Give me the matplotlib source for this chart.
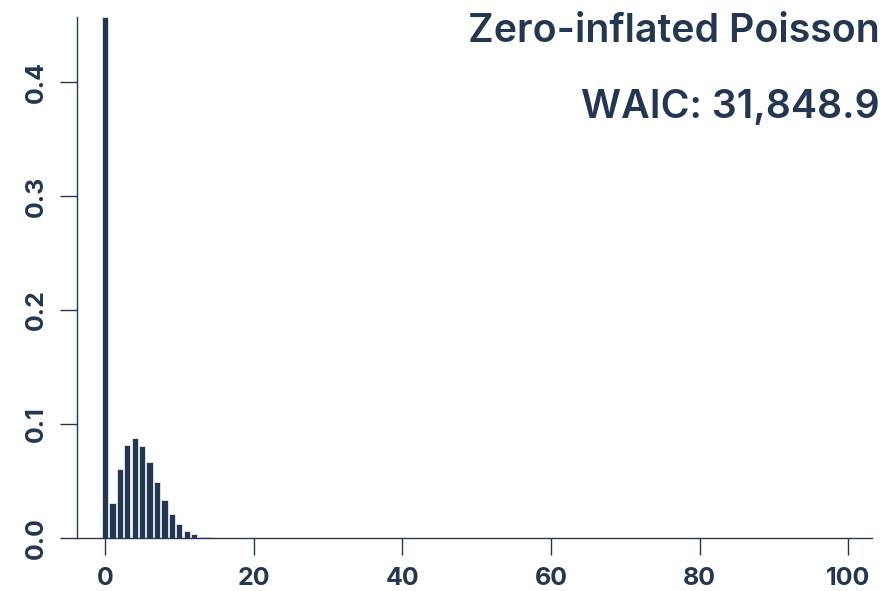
import matplotlib
matplotlib.use("Agg")
import matplotlib.pyplot as plt
import numpy as np

counts = list(range(0, 15))
probs = [0.457, 0.031, 0.0605, 0.082, 0.0877, 0.0804, 0.0664, 0.049, 0.0333,
         0.021, 0.012, 0.0065, 0.0032, 0.0013, 0.0005]
title = "Zero-inflated Poisson"
subtitle = "WAIC: 31,848.9"
xticks = [0, 20, 40, 60, 80, 100]
yticks = [0.0, 0.1, 0.2, 0.3, 0.4]

navy = "#243650"
plt.rcParams['font.family'] = ['Inter', 'DejaVu Sans']

fig = plt.figure(figsize=(8.88, 5.91), dpi=100)
ax = fig.add_axes([0.0867, 0.0897, 0.982 - 0.0867, 0.971 - 0.0897])
ax.bar(counts, probs, width=0.85, color=navy, edgecolor="#e8ecf0", linewidth=0.6)
ax.set_xlim(-3.77, 103.2)
ax.set_ylim(0, max(probs))
ax.set_xticks(xticks)
ax.set_yticks(yticks)
ax.set_xticklabels([str(t) for t in xticks])
ax.set_yticklabels([f"{t:.1f}" for t in yticks], rotation=90, va="center")
for s in ["top", "right"]:
    ax.spines[s].set_visible(False)
for s in ["left", "bottom"]:
    ax.spines[s].set_color(navy)
    ax.spines[s].set_linewidth(1.0)
ax.tick_params(axis="both", length=12, width=1.0, color=navy, labelcolor=navy,
               labelsize=18)
ax.tick_params(axis="y", pad=9)
ax.tick_params(axis="x", pad=9)
for lab in ax.get_xticklabels() + ax.get_yticklabels():
    lab.set_fontweight("bold")

fig.text(0.991, 0.946, title, ha="right", va="center", fontsize=28.3,
         fontweight="semibold", color=navy)
fig.text(0.991, 0.818, subtitle, ha="right", va="center", fontsize=28.3,
         fontweight="semibold", color=navy)

fig.savefig("out.png", dpi=100)
